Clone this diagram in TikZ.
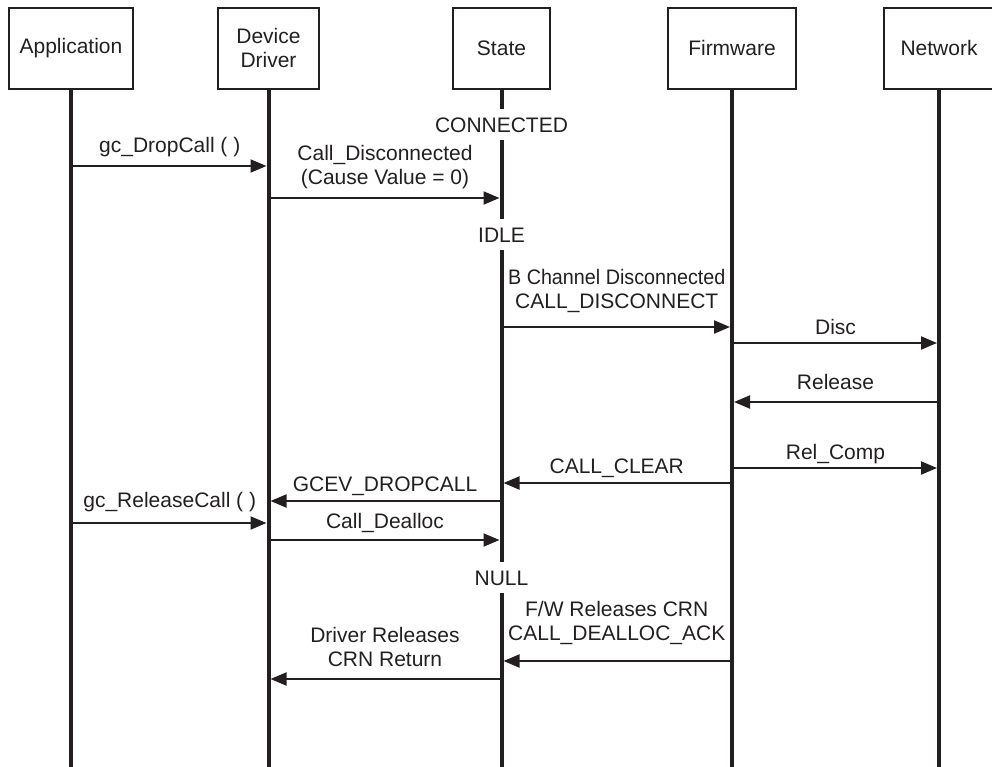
\documentclass[tikz,border=0pt]{standalone}
\usepackage{fontspec}
\setmainfont{Liberation Sans}
\usetikzlibrary{arrows.meta, positioning}
\usepackage{xcolor}
\definecolor{ink}{HTML}{231F20}

\begin{document}
\begin{tikzpicture}[
    x=1pt, y=1pt,
    every node/.style={
        text=ink,
        font=\fontsize{21}{24}\selectfont
    },
    headbox/.style={
        draw=ink,
        line width=2pt,
        align=center,
        minimum height=81pt,
        inner sep=0pt,
        outer sep=0pt
    },
    lifeline/.style={draw=ink, line width=4pt},
    msg/.style={draw=ink, line width=2pt, shorten >=2pt,
        -{Triangle[length=16pt,width=13pt]}},
    lbl/.style={above=#1, inner sep=0pt, text depth=4pt, align=center},
    lbl/.default=5pt,
    statelbl/.style={inner xsep=0pt, inner ysep=8pt, text height=15pt, text depth=0pt}
]
\useasboundingbox (0,0) rectangle (992,-766);

% --- Heads ---
\node[headbox, minimum width=124pt] (app) at (71,-48) {Application};
\node[headbox, minimum width=101pt] (drv) [right=85pt of app] {Device\\Driver};
\node[headbox, minimum width=97pt] (state) [right=134pt of drv] {State};
\node[headbox, minimum width=128pt] (fw) [right=118pt of state] {Firmware};
\node[headbox, minimum width=110pt] (net) [right=88pt of fw] {Network};

\coordinate (bot) at (0,-770);

% --- States ---
\node[statelbl] (conn) at (state |- 0,-124.5) {CONNECTED};
\node[statelbl] (idle) at (state |- 0,-234.5) {IDLE};
\node[statelbl] (null) at (state |- 0,-577.5) {NULL};

% --- Lifelines ---
\draw[lifeline] (app.south) -- (app |- bot);
\draw[lifeline] (drv.south) -- (drv |- bot);
\draw[lifeline] (state.south) -- (conn.north);
\draw[lifeline] (conn.south) -- (idle.north);
\draw[lifeline] (idle.south) -- (null.north);
\draw[lifeline] (null.south) -- (state |- bot);
\draw[lifeline] (fw.south) -- (fw |- bot);
\draw[lifeline] (net.south) -- (net |- bot);

% --- Messages ---
\draw[msg] (app |- 0,-166) -- node[lbl=9pt] {gc\_DropCall ( )} (drv |- 0,-166);
\draw[msg] (drv |- 0,-198) -- node[lbl=8.5pt] {Call\_Disconnected\\(Cause Value = 0)} (state |- 0,-198);
\draw[msg] (state |- 0,-327) -- node[lbl=13.5pt] {\scalebox{0.94}[1]{B Channel Disconnected}\\CALL\_DISCONNECT} (fw |- 0,-327);
\draw[msg] (fw |- 0,-343) -- node[lbl=4pt] {Disc} (net |- 0,-343);
\draw[msg] (net |- 0,-402) -- node[lbl=7.5pt] {Release} (fw |- 0,-402);
\draw[msg] (fw |- 0,-468) -- node[lbl=3.5pt] {Rel\_Comp} (net |- 0,-468);
\draw[msg] (fw |- 0,-483) -- node[lbl=4.5pt] {CALL\_CLEAR} (state |- 0,-483);
\draw[msg] (state |- 0,-501) -- node[lbl] {GCEV\_DROPCALL} (drv |- 0,-501);
\draw[msg] (app |- 0,-523) -- node[lbl=11pt] {gc\_ReleaseCall ( )} (drv |- 0,-523);
\draw[msg] (drv |- 0,-540) -- node[lbl=7pt] {Call\_Dealloc} (state |- 0,-540);
\draw[msg] (fw |- 0,-661) -- node[lbl=15.5pt] {F/W Releases CRN\\CALL\_DEALLOC\_ACK} (state |- 0,-661);
\draw[msg] (state |- 0,-679) -- node[lbl=7.5pt] {Driver Releases\\CRN Return} (drv |- 0,-679);

\end{tikzpicture}
\end{document}
